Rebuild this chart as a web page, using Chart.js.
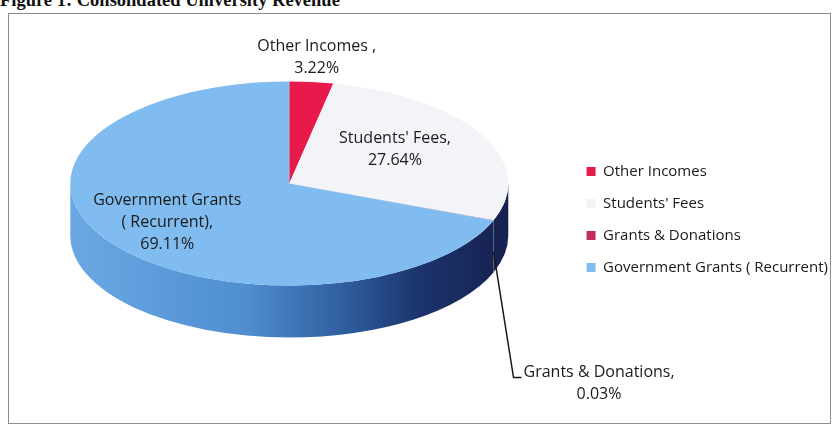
<!DOCTYPE html>
<html>
<head>
<meta charset="utf-8">
<script src="https://cdn.jsdelivr.net/npm/chart.js@4.4.1/dist/chart.umd.min.js"></script>
<style>
  html, body { margin: 0; padding: 0; background: #fff; }
  #wrap { position: relative; width: 838px; height: 429px; overflow: hidden; }
  #title {
    position: absolute; left: 0; top: -10px; white-space: nowrap;
    font: bold 18.5px "Liberation Serif", "Times New Roman", serif; line-height: 20px; color: #111;
  }
  #frame { position: absolute; left: 8px; top: 13px; width: 821px; height: 409px; border: 1px solid #8c8c8c; }
  #revenue { position: absolute; left: 0; top: 0; }
</style>
</head>
<body>
<div id="wrap">
  <div id="title">Figure 1: Consolidated University Revenue</div>
  <div id="frame"></div>
  <canvas id="revenue" width="838" height="429"></canvas>
</div>
<script>
// revenue shares, in percent
const categories = ['Other Incomes ', "Students' Fees", 'Grants & Donations', 'Government Grants ( Recurrent)'];
const shares = [3.22, 27.64, 0.03, 69.11];
const sliceColors = ['#e8194b', '#f3f4f8', '#c42a5c', '#80bcef'];

// near-side wall of the 3D pie, lit from the left
const wallStops = [[0, '#6aa8e4'], [0.4, '#4f8ed0'], [0.62, '#2f5fa0'], [0.8, '#1c336c'], [1, '#16214f']];

function frontSpan(a0, a1) {
  for (const k of [-2, 0, 2]) {
    const s = Math.max(a0 + k * Math.PI, 0);
    const e = Math.min(a1 + k * Math.PI, Math.PI);
    if (e > s) return [s, e];
  }
  return null;
}

function wrapText(ctx, text, maxWidth) {
  const words = text.split(' ');
  const lines = [];
  let cur = '';
  words.forEach(w => {
    const test = cur ? cur + ' ' + w : w;
    if (cur && ctx.measureText(test).width > maxWidth) {
      lines.push(cur);
      cur = w;
    } else {
      cur = test;
    }
  });
  if (cur) lines.push(cur);
  return lines;
}

// squashes the pie into an ellipse and adds the side wall
const tiltPlugin = {
  id: 'tilt',
  beforeDatasetsDraw(chart, args, opts) {
    const ctx = chart.ctx;
    const arcs = chart.getDatasetMeta(0).data;
    const { x, y, outerRadius: r } = arcs[0];
    const sy = opts.squash;
    const cy = y - opts.lift;
    const depth = opts.depth;
    chart.$tilt = { x, y, cy, sy, r, depth };

    const grad = ctx.createLinearGradient(x - r, 0, x + r, 0);
    wallStops.forEach(([p, c]) => grad.addColorStop(p, c));

    ctx.save();
    ctx.fillStyle = grad;
    arcs.forEach(arc => {
      const span = frontSpan(arc.startAngle, arc.endAngle);
      if (!span) return;
      const [s, e] = span;
      ctx.beginPath();
      ctx.ellipse(x, cy, r, r * sy, 0, s, e, false);
      ctx.ellipse(x, cy + depth, r, r * sy, 0, e, s, true);
      ctx.closePath();
      ctx.fill();
    });
    ctx.restore();

    ctx.save();
    ctx.translate(x, cy);
    ctx.scale(1, sy);
    ctx.translate(-x, -y);
  },
  afterDatasetsDraw(chart) {
    chart.ctx.restore();
  }
};

// category + percentage labels on the slices
const sliceLabels = {
  id: 'sliceLabels',
  afterDatasetsDraw(chart, args, opts) {
    const t = chart.$tilt;
    const ctx = chart.ctx;
    const arcs = chart.getDatasetMeta(0).data;
    ctx.save();
    ctx.font = opts.font;
    ctx.fillStyle = opts.color;
    ctx.textAlign = 'center';
    ctx.textBaseline = 'middle';
    arcs.forEach((arc, i) => {
      const place = opts.placement[i];
      const mid = (arc.startAngle + arc.endAngle) / 2;
      const lines = wrapText(ctx, categories[i] + ',', place.wrap || opts.wrapWidth);
      lines.push(shares[i].toFixed(2) + '%');
      let px, py;
      if (place.leader) {
        const L = place.leader;
        const sx = t.x + t.r * Math.cos(mid);
        const sy = t.cy + t.r * t.sy * Math.sin(mid) + t.depth * L.from;
        const ex = sx + L.dx, ey = sy + L.dy;
        ctx.beginPath();
        ctx.moveTo(sx, sy);
        ctx.lineTo(ex, ey);
        ctx.lineTo(ex + L.hook, ey);
        ctx.strokeStyle = opts.lineColor;
        ctx.lineWidth = 1.5;
        ctx.stroke();
        const w = Math.max(...lines.map(l => ctx.measureText(l).width));
        px = ex + L.hook + 2 + w / 2;
        py = ey + L.shift;
      } else {
        px = t.x + place.radial * t.r * Math.cos(mid);
        py = t.cy + place.radial * t.r * t.sy * Math.sin(mid) + (place.dy || 0);
      }
      const n = lines.length;
      lines.forEach((l, k) => ctx.fillText(l, px, py + (k - (n - 1) / 2) * opts.lineHeight));
    });
    ctx.restore();
  }
};

new Chart(document.getElementById('revenue'), {
  type: 'pie',
  data: {
    labels: categories,
    datasets: [{
      data: shares,
      backgroundColor: sliceColors,
      borderWidth: 0,
      radius: 219,
      clip: false
    }]
  },
  options: {
    responsive: false,
    devicePixelRatio: 1,
    animation: false,
    events: [],
    layout: { padding: { left: 9, right: 0, top: 10, bottom: 0 } },
    plugins: {
      legend: {
        position: 'right',
        labels: {
          boxWidth: 9,
          boxHeight: 9,
          padding: 17,
          color: '#1a1a1a',
          font: { family: '"Open Sans", sans-serif', size: 15 }
        }
      },
      tooltip: { enabled: false },
      tilt: { squash: 0.466, lift: 36, depth: 52 },
      sliceLabels: {
        font: '16px "Open Sans", sans-serif',
        color: '#1a1a1a',
        lineColor: '#1a1a1a',
        lineHeight: 22,
        wrapWidth: 151,
        placement: [
          { radial: 1.24 },
          { radial: 0.55, dy: -7 },
          { leader: { from: 0.6, dx: 20, dy: 126, hook: 8, shift: 6 }, wrap: 220 },
          { radial: 0.675 }
        ]
      }
    }
  },
  plugins: [tiltPlugin, sliceLabels]
});
</script>
</body>
</html>
